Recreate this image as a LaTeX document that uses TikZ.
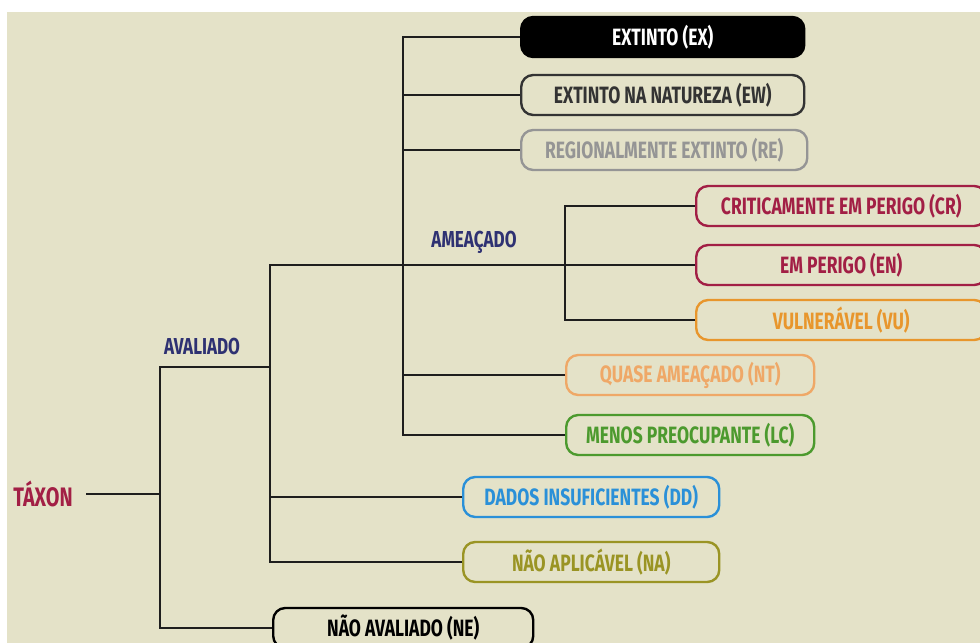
\documentclass[tikz,border=0pt]{standalone}
\usepackage{fontspec}
\setmainfont{Fira Sans}[FakeStretch=0.74]
\usepackage{tikz}
\usetikzlibrary{positioning}
\definecolor{ChartSand}{HTML}{E4E2C8}
\definecolor{ChartInk}{HTML}{1E1E1E}
\definecolor{ChartNavy}{HTML}{2E3172}
\definecolor{ChartCrimson}{HTML}{A21F45}
\definecolor{ChartDark}{HTML}{333333}
\definecolor{ChartGrey}{HTML}{959595}
\definecolor{ChartOrange}{HTML}{E8962C}
\definecolor{ChartPeach}{HTML}{EFA867}
\definecolor{ChartGreen}{HTML}{4C9A2E}
\definecolor{ChartBlue}{HTML}{2A90D8}
\definecolor{ChartOlive}{HTML}{9A9424}

\begin{document}
\begin{tikzpicture}[x=0.025cm, y=-0.025cm,
  category/.style={rounded corners=0.3cm, draw, line width=1.7pt,
                   fill=ChartSand, anchor=west, minimum height=1cm,
                   inner sep=0pt, align=center,
                   font=\bfseries\fontsize{16.8}{17}\selectfont},
  group/.style={font=\bfseries\fontsize{16.4}{17}\selectfont, text=ChartNavy},
  branch/.style={line width=1.8pt, draw=ChartInk}
]
\useasboundingbox (0,0) rectangle (980,643);
\fill[ChartSand] (7,12) rectangle (980,643);

\node[font=\bfseries\fontsize{19}{19}\selectfont, text=ChartCrimson] (taxon) at (43,494) {TÁXON};
\node[group] (avaliado) at (202,347) {AVALIADO};
\node[group] (ameacado) at (474,242) {AMEAÇADO};

\node[category, minimum width=7.075cm, fill=black, draw=black, text=white] (ex) at (520,37) {EXTINTO (EX)};
\node[category, minimum width=7.075cm, draw=ChartDark, text=ChartDark] (ew) at (520,95) {EXTINTO NA NATUREZA (EW)};
\node[category, minimum width=7.15cm, draw=ChartGrey, text=ChartGrey] (re) at (520,150) {REGIONALMENTE EXTINTO (RE)};
\node[category, minimum width=7.25cm, draw=ChartCrimson, text=ChartCrimson] (cr) at (695,206) {CRITICAMENTE EM PERIGO (CR)};
\node[category, minimum width=7.25cm, draw=ChartCrimson, text=ChartCrimson] (en) at (695,265) {EM PERIGO (EN)};
\node[category, minimum width=7.25cm, draw=ChartOrange, text=ChartOrange] (vu) at (695,320) {VULNERÁVEL (VU)};
\node[category, minimum width=6.2cm, draw=ChartPeach, text=ChartPeach] (nt) at (565,375) {QUASE AMEAÇADO (NT)};
\node[category, minimum width=6.2cm, draw=ChartGreen, text=ChartGreen] (lc) at (565,435) {MENOS PREOCUPANTE (LC)};
\node[category, minimum width=6.4cm, draw=ChartBlue, text=ChartBlue] (dd) at (462,497) {DADOS INSUFICIENTES (DD)};
\node[category, minimum width=6.4cm, draw=ChartOlive, text=ChartOlive] (na) at (462,562) {NÃO APLICÁVEL (NA)};
\node[category, minimum width=6.5cm, draw=black, text=black] (ne) at (272,628) {NÃO AVALIADO (NE)};

\coordinate (split) at (160,367);
\coordinate (split-end) at (270,367);
\coordinate (threat) at (270,265);
\coordinate (extinct) at (403,37);
\coordinate (critical) at (565,206);

\draw[branch, shorten <=6pt] (taxon.east) -- (taxon.east -| split);
\draw[branch] (ne.west) -| (split) -- (split-end);
\draw[branch] (na.west) -| (threat) -- (en.west);
\draw[branch] (dd.west) -- (dd.west -| threat);
\draw[branch] (lc.west) -| (extinct) -- (ex.west);
\draw[branch] (ew.west) -- (ew.west -| extinct);
\draw[branch] (re.west) -- (re.west -| extinct);
\draw[branch] (nt.west) -- (nt.west -| extinct);
\draw[branch] (vu.west) -| (critical) -- (cr.west);
\end{tikzpicture}
\end{document}
